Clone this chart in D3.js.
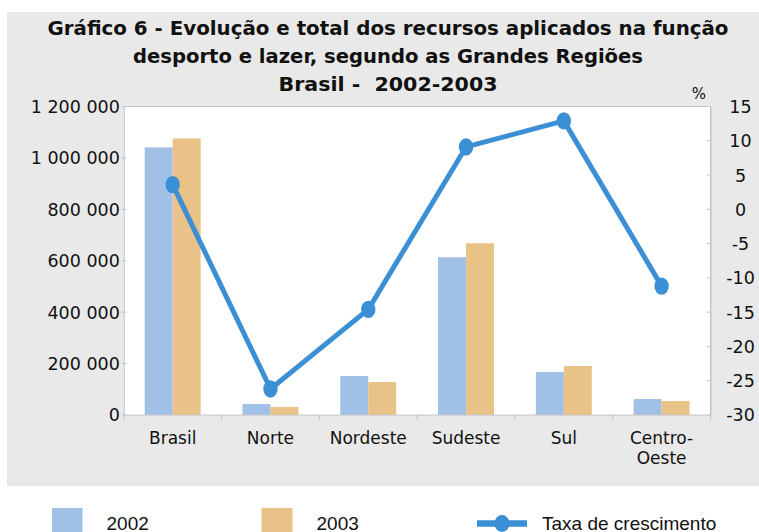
<!DOCTYPE html>
<html><head><meta charset="utf-8">
<script src="https://cdn.jsdelivr.net/npm/d3@7"></script>
<style>
html,body{margin:0;padding:0;background:#fff;}
svg{display:block;}
</style></head>
<body>
<svg id="chart" width="759" height="532"></svg>
<script>
const categories = ["Brasil", "Norte", "Nordeste", "Sudeste", "Sul", "Centro-Oeste"];
const values2002 = [1040800, 42700, 151500, 613600, 167000, 62100];
const values2003 = [1075700, 31000, 128200, 668000, 190300, 54400];
const growthRate = [3.6, -26.2, -14.6, 9.1, 12.9, -11.2];
const leftTicks = [0, 200000, 400000, 600000, 800000, 1000000, 1200000];
const rightTicks = [-30, -25, -20, -15, -10, -5, 0, 5, 10, 15];
const seriesNames = ["2002", "2003", "Taxa de crescimento"];
const titleLines = ["Gráfico 6 - Evolução e total dos recursos aplicados na função",
                    "desporto e lazer, segundo as Grandes Regiões",
                    "Brasil -  2002-2003"];

const C2002 = "#a0c0e6", C2003 = "#e9c287", CLINE = "#3b8fd5";
const svg = d3.select("#chart");

// background panel
svg.append("rect").attr("x", 7).attr("y", 12).attr("width", 752).attr("height", 474).attr("fill", "#e9e9e9");

const L = 123.8, R = 710.5, T = 106.5, B = 415;

svg.append("rect").attr("x", L).attr("y", T).attr("width", R - L).attr("height", B - T).attr("fill", "#fff");

const x = d3.scaleBand().domain(categories).range([L, R]);
const yL = d3.scaleLinear().domain([0, 1200000]).range([B, T]);
const yR = d3.scaleLinear().domain([-30, 15]).range([B, T]);
const barW = x.bandwidth() * 0.286;

// title
const titleFont = "'Liberation Sans Narrow','DejaVu Sans Condensed','Arial Narrow',sans-serif";
const titleBase = [35, 63, 91];
const titleWidths = [681, 510, 219];
titleLines.forEach((t, i) => {
  svg.append("text").attr("x", 388).attr("y", titleBase[i])
    .attr("text-anchor", "middle")
    .attr("font-family", titleFont).attr("font-weight", "bold").attr("font-size", 20)
    .attr("textLength", titleWidths[i]).attr("lengthAdjust", "spacingAndGlyphs")
    .attr("fill", "#111").attr("xml:space", "preserve").style("white-space", "pre")
    .text(t);
});

// bars
const g = svg.append("g");
categories.forEach((c, i) => {
  const cx = x(c) + x.bandwidth() / 2;
  g.append("rect").attr("x", cx - barW).attr("y", yL(values2002[i])).attr("width", barW)
    .attr("height", yL(0) - yL(values2002[i])).attr("fill", C2002);
  g.append("rect").attr("x", cx).attr("y", yL(values2003[i])).attr("width", barW)
    .attr("height", yL(0) - yL(values2003[i])).attr("fill", C2003);
});

// frame
const gridC = "#c4c4c4";
svg.append("line").attr("x1", L).attr("x2", R).attr("y1", T).attr("y2", T).attr("stroke", gridC);
svg.append("line").attr("x1", R).attr("x2", R).attr("y1", T).attr("y2", B).attr("stroke", gridC);

const tickFont = "'DejaVu Sans',sans-serif";
// left axis
const fmt = v => d3.format(",")(v).replace(/,/g, " ");
const axL = svg.append("g").attr("transform", `translate(${L},0)`)
  .call(d3.axisLeft(yL).tickValues(leftTicks).tickFormat(fmt).tickSize(0).tickPadding(4));
axL.select(".domain").attr("stroke", gridC);
axL.selectAll(".tick text").attr("font-family", tickFont).attr("font-size", 17.5).attr("fill", "#111").attr("dy", "0.34em");
leftTicks.forEach(v => svg.append("line").attr("x1", L - 2).attr("x2", L + 3).attr("y1", yL(v)).attr("y2", yL(v)).attr("stroke", gridC));

// right axis
const axR = svg.append("g").attr("transform", `translate(${R},0)`)
  .call(d3.axisRight(yR).tickValues(rightTicks).tickFormat(d => String(d)).tickSize(0).tickPadding(30));
axR.select(".domain").attr("stroke", gridC);
axR.selectAll(".tick text").attr("font-family", tickFont).attr("font-size", 17.5).attr("fill", "#111")
  .attr("text-anchor", "middle").attr("dy", "0.34em");
rightTicks.forEach(v => svg.append("line").attr("x1", R - 4).attr("x2", R).attr("y1", yR(v)).attr("y2", yR(v)).attr("stroke", gridC));
svg.append("text").attr("x", 699).attr("y", 99).attr("text-anchor", "middle")
  .attr("font-family", tickFont).attr("font-size", 15).attr("fill", "#111").text("%");

// bottom axis
svg.append("line").attr("x1", L).attr("x2", R).attr("y1", B).attr("y2", B).attr("stroke", gridC);
const bounds = categories.map(c => x(c)).concat([R]);
bounds.forEach(bx => svg.append("line").attr("x1", bx).attr("x2", bx).attr("y1", B).attr("y2", B + 5).attr("stroke", gridC));
categories.forEach(c => {
  const cx = x(c) + x.bandwidth() / 2;
  const parts = c === "Centro-Oeste" ? ["Centro-", "Oeste"] : [c];
  const t = svg.append("text").attr("x", cx).attr("y", 444).attr("text-anchor", "middle")
    .attr("font-family", tickFont).attr("font-size", 17).attr("fill", "#111");
  parts.forEach((p, j) => t.append("tspan").attr("x", cx).attr("dy", j === 0 ? 0 : 20).text(p));
});

// line
const pts = categories.map((c, i) => [x(c) + x.bandwidth() / 2, yR(growthRate[i])]);
svg.append("path").attr("d", d3.line()(pts)).attr("fill", "none").attr("stroke", CLINE)
  .attr("stroke-width", 5).attr("stroke-linejoin", "round");
pts.forEach(p => svg.append("ellipse").attr("cx", p[0]).attr("cy", p[1]).attr("rx", 7.2).attr("ry", 8.7).attr("fill", CLINE));

// legend
const legFont = "'Liberation Sans',Arial,sans-serif";
svg.append("rect").attr("x", 52).attr("y", 508).attr("width", 30.5).attr("height", 30).attr("fill", C2002);
svg.append("text").attr("x", 106.5).attr("y", 529.5).attr("font-family", legFont).attr("font-size", 19).attr("fill", "#111").text(seriesNames[0]);
svg.append("rect").attr("x", 261.5).attr("y", 508).attr("width", 31).attr("height", 30).attr("fill", C2003);
svg.append("text").attr("x", 316.5).attr("y", 529.5).attr("font-family", legFont).attr("font-size", 19).attr("fill", "#111").text(seriesNames[1]);
svg.append("line").attr("x1", 477).attr("x2", 527).attr("y1", 523.5).attr("y2", 523.5).attr("stroke", CLINE).attr("stroke-width", 6.5);
svg.append("ellipse").attr("cx", 502).attr("cy", 523.5).attr("rx", 7.5).attr("ry", 8.5).attr("fill", CLINE);
svg.append("text").attr("x", 542).attr("y", 529.5).attr("font-family", legFont).attr("font-size", 19).attr("fill", "#111").text(seriesNames[2]);
</script>
</body></html>
